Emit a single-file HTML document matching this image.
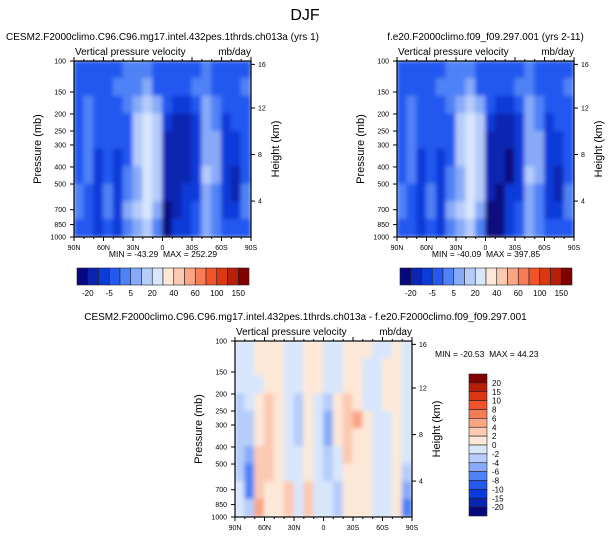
<!DOCTYPE html>
<html><head><meta charset="utf-8"><style>
body{margin:0;background:#fff}
svg text{font-family:"Liberation Sans",Helvetica,sans-serif;fill:#000}
</style></head><body>
<svg id="s" width="609" height="538" viewBox="0 0 609 538" xmlns="http://www.w3.org/2000/svg">
<defs><filter id="bl" x="0" y="0" width="1" height="1"><feGaussianBlur stdDeviation="2.2"/></filter></defs>
<text x="305" y="20" font-size="16" text-anchor="middle">DJF</text>
</svg>
<script>
const palette=['#07087f','#0a25b2','#0b3bd9','#2458f0','#4f82f6','#88aaf8','#b6ccfa','#d8e6fc','#fde8d8','#fcc9b1','#f9a586','#f57c55','#f2532a','#dc3713','#b81f08','#820000'];
const latLabels=['90N','60N','30N','0','30S','60S','90S'];
const pressureTicks=[100,150,200,250,300,400,500,700,850,1000];
const heightTicks=[16,12,8,4];
const heightTickPressure=[104.5,185,340,625];
const cbLabelsTop=['-20','-5','5','20','40','60','100','150'];
const cbLabelsDiff=['20','15','10','8','6','4','2','0','-2','-4','-6','-8','-10','-15','-20'];
const fieldCtrl=[
'333334443333343333','333344453333443334','343334565322354333','343333676211254233','343333676111255223',
'342323676111255223','342324576111265213','432424576112254214','432425675012354224','332324564022354333'];
const fieldTest=[
'333334443333343333','333344453333443334','343334565322354333','343333676211254233','343333676111255223',
'342323676110255223','342324576110265213','432424576102254214','432425675002354224','332324564002354333'];
const fieldDiff=[
'778887788778887787','778887788778877887','777887788778877887','678987687689877887','668987687589A87787',
'668987687589887787','659987787679887787','649987787678887786','749889797768887785','76A889797768887784'];
const minmax=[['-43.29','252.29'],['-40.09','397.85'],['-20.53','44.23']];
const S=document.getElementById('s'),NS='http://www.w3.org/2000/svg';
function el(t,a,p){const e=document.createElementNS(NS,t);for(const k in a)e.setAttribute(k,a[k]);(p||S).appendChild(e);return e;}
function txt(x,y,s,sz,anc,p){const e=el('text',{x:x,y:y,'font-size':sz,'text-anchor':anc||'start'},p);e.textContent=s;return e;}
function yP(p,y0,h){return y0+h*Math.log10(p/100);}
function panel(x0,y0,field,name,title,mm,mmPos){
  const w=177,h=176;
  const g=el('g',{});
  
  
  const cp=el('clipPath',{id:'c'+name},g);
  el('rect',{x:x0,y:y0,width:w,height:h},cp);
  const fg=el('g',{'clip-path':'url(#c'+name+')'},g);
  const inner=el('g',{filter:'url(#bl)'},fg);
  const rows=field.length;
  field.forEach((row,r)=>{const cols=18;for(let c=0;c<cols;c++){const v=parseInt(row[c]||'7',16);
    const rc=el('rect',{x:x0+c*w/cols-0.5,y:y0+r*h/rows-0.5,width:w/cols+1,height:h/rows+1,fill:palette[v]},inner);
    
    }});
  el('rect',{x:x0,y:y0,width:w,height:h,fill:'none',stroke:'#000','stroke-width':1.2},g);
  latLabels.forEach((l,i)=>{const x=x0+i*w/6;el('line',{x1:x,x2:x,y1:y0+h,y2:y0+h+4,stroke:'#000'},g);el('line',{x1:x,x2:x,y1:y0,y2:y0-4,stroke:'#000'},g);
    const t=txt(x,y0+h+13,l,7,'middle',g);});
  for(let i=0;i<18;i++){const x=x0+i*w/18;el('line',{x1:x,x2:x,y1:y0+h,y2:y0+h+2,stroke:'#000'},g);el('line',{x1:x,x2:x,y1:y0,y2:y0-2,stroke:'#000'},g);}
  pressureTicks.forEach(p=>{const y=yP(p,y0,h);el('line',{x1:x0-4,x2:x0,y1:y,y2:y,stroke:'#000'},g);
    const t=txt(x0-8,y+2.5,String(p),7,'end',g);});
  heightTicks.forEach((hk,i)=>{const y=yP(heightTickPressure[i],y0,h);el('line',{x1:x0+w,x2:x0+w+4,y1:y,y2:y,stroke:'#000'},g);
    const t=txt(x0+w+7,y+2.5,String(hk),7,'start',g);});
  const yt=txt(0,0,'Pressure (mb)',11,'middle',g);yt.setAttribute('transform','translate('+(x0-33)+','+(y0+h/2)+') rotate(-90)');
  
  const ht=txt(0,0,'Height (km)',11,'middle',g);ht.setAttribute('transform','translate('+(x0+w+28)+','+(y0+h/2)+') rotate(-90)');
  
  txt(x0+1,y0-6,'Vertical pressure velocity',10,'start',g);
  txt(x0+w,y0-6,'mb/day',10,'end',g);
  txt(x0+w/2+title[1],y0-21,title[0],10,'middle',g);
  const m=txt(mmPos[0],mmPos[1],'MIN = '+mm[0]+'\u00a0\u00a0MAX = '+mm[1],8.5,mmPos[2],g);
}
panel(74,61,fieldCtrl,'panel-ctrl',['CESM2.F2000climo.C96.C96.mg17.intel.432pes.1thrds.ch013a (yrs 1)',0],minmax[0],[163,257,'middle']);
panel(397,61,fieldTest,'panel-test',['f.e20.F2000climo.f09_f09.297.001 (yrs 2-11)',0],minmax[1],[486,257,'middle']);
panel(235,341,fieldDiff,'panel-diff',['CESM2.F2000climo.C96.C96.mg17.intel.432pes.1thrds.ch013a - f.e20.F2000climo.f09_f09.297.001',-18],minmax[2],[435,357,'start']);
function hbar(x0,y0,name){const g=el('g',{});
  const bw=172/16;palette.forEach((c,i)=>{const r=el('rect',{x:x0+i*bw,y:y0,width:bw,height:17,fill:c,stroke:'#222','stroke-width':0.6},g);});
  cbLabelsTop.forEach((l,i)=>{const t=txt(x0+(2*i+1)*bw,y0+28,l,8,'middle',g);});}
hbar(77,268,'colorbar-ctrl');hbar(400,268,'colorbar-test');
(function(){const g=el('g',{});
  const x0=469,y0=374,bh=142/16;palette.slice().reverse().forEach((c,i)=>{const r=el('rect',{x:x0,y:y0+i*bh,width:18,height:bh,fill:c,stroke:'#222','stroke-width':0.6},g);});
  cbLabelsDiff.forEach((l,i)=>{const t=txt(x0+23,y0+(i+1)*bh+3,l,8,'start',g);});})();
</script>
</body></html>
